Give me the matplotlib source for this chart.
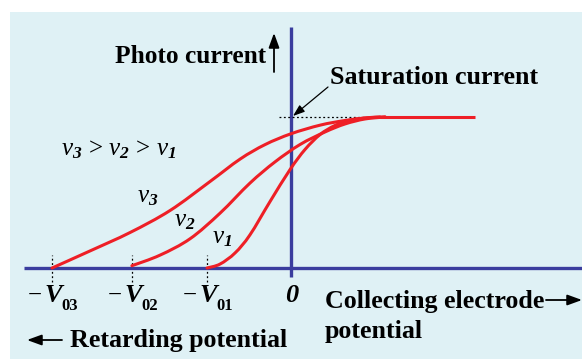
import matplotlib
matplotlib.use("Agg")
import matplotlib.pyplot as plt
from matplotlib.patches import Rectangle, PathPatch
from matplotlib.path import Path

plt.rcParams['mathtext.fontset'] = 'custom'
plt.rcParams['mathtext.rm'] = 'Liberation Serif'
plt.rcParams['mathtext.it'] = 'Liberation Serif:italic'
plt.rcParams['mathtext.bf'] = 'Liberation Serif:bold'
plt.rcParams['mathtext.bfit'] = 'Liberation Serif:bold:italic'

# ---- data (arbitrary units: potential on x, photocurrent on y) ----
v3_x = [-9.19, -7.73, -6.19, -4.65, -3.12, -1.96, -1.0, 0.0, 1.12, 2.08, 2.92, 3.62]
v3_y = [0.0, 1.13, 2.35, 3.81, 5.72, 7.21, 8.17, 8.89, 9.46, 9.77, 9.94, 10.0]
v2_x = [-6.12, -5.04, -3.88, -2.73, -1.58, -0.62, 0.35, 1.31, 2.08, 2.85, 3.62]
v2_y = [0.15, 0.85, 1.94, 3.63, 5.62, 7.02, 8.18, 9.01, 9.54, 9.87, 10.0]
v1_x = [-3.23, -2.73, -2.15, -1.58, -0.81, -0.04, 0.54, 1.12, 1.69, 2.27, 2.92, 3.42]
v1_y = [0.0, 0.26, 1.0, 2.19, 4.39, 6.51, 7.85, 8.84, 9.44, 9.79, 9.95, 10.0]
saturation = 10.0
plateau_end = 7.08
stop_labels = ['03', '02', '01']
curve_labels = ['3', '2', '1']

# ---- figure ----
W, H = 582, 361
fig = plt.figure(figsize=(W / 100, H / 100), dpi=100)
fig.patch.set_facecolor('white')
ax = fig.add_axes([0, 0, 1, 1])
ax.set_axis_off()

SX, SY = 26.0, 15.1      # px per unit
OX, OY = 291.0, 268.0    # pixel position of origin
ax.set_xlim(-OX / SX, (W - OX) / SX)
ax.set_ylim((OY - H) / SY, OY / SY)


def P(px, py):
    return ((px - OX) / SX, (OY - py) / SY)


def smooth_path(xs, ys):
    """Cubic Bezier path passing through every read point (Catmull-Rom tangents)."""
    pts = list(zip(xs, ys))
    n = len(pts)
    verts = [pts[0]]
    codes = [Path.MOVETO]
    for i in range(n - 1):
        p0 = pts[i - 1] if i > 0 else pts[i]
        p1 = pts[i]
        p2 = pts[i + 1]
        p3 = pts[i + 2] if i + 2 < n else pts[i + 1]
        c1 = (p1[0] + (p2[0] - p0[0]) / 6.0, p1[1] + (p2[1] - p0[1]) / 6.0)
        c2 = (p2[0] - (p3[0] - p1[0]) / 6.0, p2[1] - (p3[1] - p1[1]) / 6.0)
        verts += [c1, c2, p2]
        codes += [Path.CURVE4] * 3
    return Path(verts, codes)


BG = '#dff1f5'
BLUE = '#3a3d9e'
RED = '#ee1f26'
SERIF = 'Liberation Serif'
FS = 18.7

# panel
x0, y0 = P(10, 359)
x1, y1 = P(582, 12)
ax.add_patch(Rectangle((x0, y0), x1 - x0, y1 - y0, facecolor=BG, edgecolor='none', zorder=0))

# axes lines
ax.plot([P(24, 0)[0], P(582, 0)[0]], [0, 0], color=BLUE, lw=2.4, zorder=2, solid_capstyle='butt')
ax.plot([0, 0], [P(0, 277)[1], P(0, 27)[1]], color=BLUE, lw=2.4, zorder=2, solid_capstyle='butt')

# curves
for xs, ys in [(v3_x, v3_y), (v2_x, v2_y), (v1_x, v1_y)]:
    ax.add_patch(PathPatch(smooth_path(xs, ys), facecolor='none', edgecolor=RED, lw=2.2,
                           zorder=3, capstyle='round', joinstyle='round'))
ax.plot([v1_x[-1], plateau_end], [saturation, saturation], color=RED, lw=2.2, zorder=3,
        solid_capstyle='butt')

# saturation dotted line
ax.plot([P(279, 0)[0], P(366, 0)[0]], [saturation, saturation], color='black', lw=0.9,
        ls=(0, (1.5, 2.0)), zorder=2.5)

# dotted verticals at stopping potentials
for xs in (v3_x, v2_x, v1_x):
    ax.plot([xs[0], xs[0]], [P(0, 282)[1], P(0, 255)[1]], color='black', lw=0.9,
            ls=(0, (1.5, 2.0)), zorder=1.5)

# tick labels
for xs, lab in zip((v3_x, v2_x, v1_x), stop_labels):
    cx = xs[0] * SX + OX
    ax.text(*P(cx + 1.5, 302), 'V', family=SERIF, weight='bold', style='italic', fontsize=19,
            ha='center', va='baseline', zorder=5)
    ax.text(*P(cx - 10, 302), '\u2212', family=SERIF, fontsize=18,
            ha='right', va='baseline', zorder=5)
    ax.text(*P(cx + 9, 310), lab, family=SERIF, weight='bold', fontsize=12,
            ha='left', va='baseline', zorder=5)
ax.text(*P(292, 302), '0', family=SERIF, weight='bold', style='italic', fontsize=19,
        ha='center', va='baseline', zorder=5)

# curve labels
for (px, py), n in zip([(148, 196), (185, 220), (222, 237)], curve_labels):
    ax.text(*P(px, py), r'$\nu_{\mathbfit{%s}}$' % n, fontsize=18, ha='center', va='center', zorder=5)
ax.text(*P(61, 155), r'$\nu_{\mathbfit{3}}\,>\,\nu_{\mathbfit{2}}\,>\,\nu_{\mathbfit{1}}$',
        fontsize=18, ha='left', va='baseline', zorder=5)

arrow_kw = dict(color='black', lw=1.3, shrinkA=0, shrinkB=0, mutation_scale=16)

# axis titles
ax.text(*P(266, 63), 'Photo current', family=SERIF, weight='bold', fontsize=18.3,
        ha='right', va='baseline', zorder=5)
ax.annotate('', xy=P(274, 33), xytext=P(274, 72),
            arrowprops=dict(arrowstyle='-|>,head_length=0.55,head_width=0.2', **arrow_kw))

ax.text(*P(330, 84), 'Saturation current', family=SERIF, weight='bold', fontsize=FS,
        ha='left', va='baseline', zorder=5)
ax.annotate('', xy=P(293, 116), xytext=P(328, 87),
            arrowprops=dict(arrowstyle='-|>,head_length=0.5,head_width=0.18',
                            color='black', lw=0.9, shrinkA=0, shrinkB=0, mutation_scale=14))

ax.text(*P(325, 308), 'Collecting electrode', family=SERIF, weight='bold', fontsize=FS,
        ha='left', va='baseline', zorder=5)
ax.text(*P(325, 338), 'potential', family=SERIF, weight='bold', fontsize=FS,
        ha='left', va='baseline', zorder=5)
ax.annotate('', xy=P(582, 300), xytext=P(546, 300),
            arrowprops=dict(arrowstyle='-|>,head_length=0.55,head_width=0.2', **arrow_kw))

ax.text(*P(70, 347), 'Retarding potential', family=SERIF, weight='bold', fontsize=FS,
        ha='left', va='baseline', zorder=5)
ax.annotate('', xy=P(27, 340), xytext=P(62, 340),
            arrowprops=dict(arrowstyle='-|>,head_length=0.55,head_width=0.2', **arrow_kw))

fig.savefig('out.png', dpi=100, facecolor='white')
